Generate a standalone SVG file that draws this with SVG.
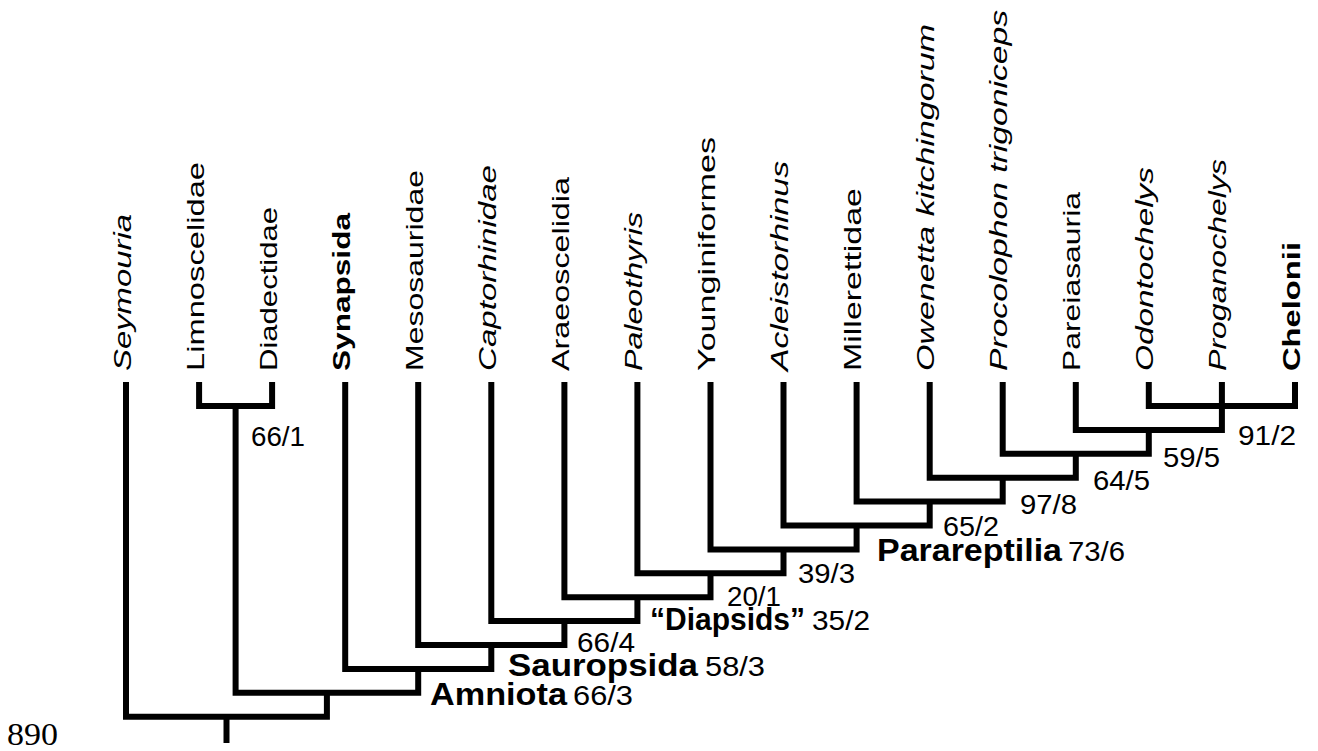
<svg xmlns="http://www.w3.org/2000/svg" width="1318" height="751" viewBox="0 0 1318 751">
<style>
  text { font-family: "Liberation Sans", Arial, Helvetica, sans-serif; fill: #000; }
  .leaf { font-size: 24px; }
  .it { font-style: italic; }
  .b { font-weight: bold; }
  .num { font-size: 28px; }
  .clade { font-size: 31px; font-weight: bold; }
  .serif { font-family: "Liberation Serif", "Times New Roman", serif; font-size: 32px; }
  #connectors path { fill: none; stroke: #000; stroke-width: 6; stroke-linejoin: miter; stroke-linecap: butt; }
</style>
<rect width="1318" height="751" fill="#fff"/>

<g id="connectors">
  <path d="M199.1 382 V406 H272.1 V382"/>
  <path d="M1148.8 382 V406 H1295 V382"/>
  <path d="M1075.8 382 V429.9 H1221.9 V382"/>
  <path d="M1002.7 382 V453.8 H1148.8 V429.9"/>
  <path d="M929.7 382 V477.7 H1075.8 V453.8"/>
  <path d="M856.6 382 V501.6 H1002.7 V477.7"/>
  <path d="M783.5 382 V525.5 H929.7 V501.6"/>
  <path d="M710.5 382 V549.4 H856.6 V525.5"/>
  <path d="M637.4 382 V573.3 H783.5 V549.4"/>
  <path d="M564.4 382 V597.2 H710.5 V573.3"/>
  <path d="M491.3 382 V621.1 H637.4 V597.2"/>
  <path d="M418.2 382 V645 H564.4 V621.1"/>
  <path d="M345.2 382 V668.9 H491.3 V645"/>
  <path d="M235.6 406 V692.8 H418.2 V668.9"/>
  <path d="M126 382 V716.7 H326.9 V692.8"/>
  <path d="M226.5 716.7 V743"/>
</g>

<g id="leaf-Seymouria"><text class="leaf it" transform="translate(131,371) rotate(-90)" textLength="157" lengthAdjust="spacingAndGlyphs">Seymouria</text></g>
<g id="leaf-Limnoscelidae"><text class="leaf" transform="translate(204,371) rotate(-90)" textLength="209" lengthAdjust="spacingAndGlyphs">Limnoscelidae</text></g>
<g id="leaf-Diadectidae"><text class="leaf" transform="translate(277,371) rotate(-90)" textLength="164" lengthAdjust="spacingAndGlyphs">Diadectidae</text></g>
<g id="leaf-Synapsida"><text class="leaf b" transform="translate(350,371) rotate(-90)" textLength="158" lengthAdjust="spacingAndGlyphs">Synapsida</text></g>
<g id="leaf-Mesosauridae"><text class="leaf" transform="translate(423,371) rotate(-90)" textLength="201" lengthAdjust="spacingAndGlyphs">Mesosauridae</text></g>
<g id="leaf-Captorhinidae"><text class="leaf it" transform="translate(496,371) rotate(-90)" textLength="206" lengthAdjust="spacingAndGlyphs">Captorhinidae</text></g>
<g id="leaf-Araeoscelidia"><text class="leaf" transform="translate(569,371) rotate(-90)" textLength="194" lengthAdjust="spacingAndGlyphs">Araeoscelidia</text></g>
<g id="leaf-Paleothyris"><text class="leaf it" transform="translate(642,371) rotate(-90)" textLength="159" lengthAdjust="spacingAndGlyphs">Paleothyris</text></g>
<g id="leaf-Younginiformes"><text class="leaf" transform="translate(715,371) rotate(-90)" textLength="234" lengthAdjust="spacingAndGlyphs">Younginiformes</text></g>
<g id="leaf-Acleistorhinus"><text class="leaf it" transform="translate(788,371) rotate(-90)" textLength="210" lengthAdjust="spacingAndGlyphs">Acleistorhinus</text></g>
<g id="leaf-Millerettidae"><text class="leaf" transform="translate(861,371) rotate(-90)" textLength="183" lengthAdjust="spacingAndGlyphs">Millerettidae</text></g>
<g id="leaf-Owenetta"><text class="leaf it" transform="translate(934,371) rotate(-90)" textLength="347" lengthAdjust="spacingAndGlyphs">Owenetta  kitchingorum</text></g>
<g id="leaf-Procolophon"><text class="leaf it" transform="translate(1007,371) rotate(-90)" textLength="361" lengthAdjust="spacingAndGlyphs">Procolophon  trigoniceps</text></g>
<g id="leaf-Pareiasauria"><text class="leaf" transform="translate(1080,371) rotate(-90)" textLength="179" lengthAdjust="spacingAndGlyphs">Pareiasauria</text></g>
<g id="leaf-Odontochelys"><text class="leaf it" transform="translate(1153,371) rotate(-90)" textLength="204" lengthAdjust="spacingAndGlyphs">Odontochelys</text></g>
<g id="leaf-Proganochelys"><text class="leaf it" transform="translate(1226,371) rotate(-90)" textLength="212" lengthAdjust="spacingAndGlyphs">Proganochelys</text></g>
<g id="leaf-Chelonii"><text class="leaf b" transform="translate(1300,371) rotate(-90)" textLength="129" lengthAdjust="spacingAndGlyphs">Chelonii</text></g>

<g id="support-values">
  <text class="num" x="251" y="446" textLength="54" lengthAdjust="spacingAndGlyphs">66/1</text>
  <text class="num" x="1238" y="445" textLength="58" lengthAdjust="spacingAndGlyphs">91/2</text>
  <text class="num" x="1163" y="467" textLength="57" lengthAdjust="spacingAndGlyphs">59/5</text>
  <text class="num" x="1093" y="490" textLength="57" lengthAdjust="spacingAndGlyphs">64/5</text>
  <text class="num" x="1020" y="514" textLength="57" lengthAdjust="spacingAndGlyphs">97/8</text>
  <text class="num" x="943" y="536" textLength="56" lengthAdjust="spacingAndGlyphs">65/2</text>
  <text class="num" x="798" y="583" textLength="57" lengthAdjust="spacingAndGlyphs">39/3</text>
  <text class="num" x="727" y="606" textLength="54" lengthAdjust="spacingAndGlyphs">20/1</text>
  <text class="num" x="577" y="652" textLength="58" lengthAdjust="spacingAndGlyphs">66/4</text>
</g>

<g id="clade-Parareptilia">
  <text class="clade" x="877" y="561" textLength="185" lengthAdjust="spacingAndGlyphs">Parareptilia</text>
  <text class="num" x="1068" y="561" textLength="57" lengthAdjust="spacingAndGlyphs">73/6</text>
</g>
<g id="clade-Diapsids">
  <text class="clade" x="650" y="630" textLength="155" lengthAdjust="spacingAndGlyphs">“Diapsids”</text>
  <text class="num" x="812" y="630" textLength="58" lengthAdjust="spacingAndGlyphs">35/2</text>
</g>
<g id="clade-Sauropsida">
  <text class="clade" x="508" y="676" textLength="190" lengthAdjust="spacingAndGlyphs">Sauropsida</text>
  <text class="num" x="705" y="676" textLength="60" lengthAdjust="spacingAndGlyphs">58/3</text>
</g>
<g id="clade-Amniota">
  <text class="clade" x="430" y="705" textLength="137" lengthAdjust="spacingAndGlyphs">Amniota</text>
  <text class="num" x="573" y="705" textLength="60" lengthAdjust="spacingAndGlyphs">66/3</text>
</g>

<g id="root-label">
  <text class="serif" x="7" y="745" textLength="51" lengthAdjust="spacingAndGlyphs">890</text>
</g>
</svg>
